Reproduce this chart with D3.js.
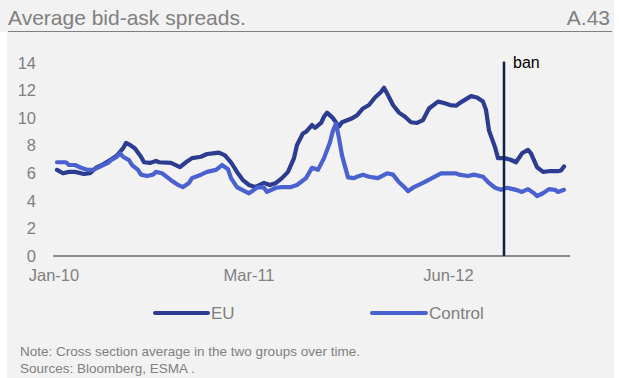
<!DOCTYPE html>
<html>
<head>
<meta charset="utf-8">
<script src="https://cdn.jsdelivr.net/npm/d3@7"></script>
<style>
  html, body { margin: 0; padding: 0; background: #ffffff; }
  svg { display: block; font-family: "Liberation Sans", Arial, sans-serif; }
</style>
</head>
<body>
<svg id="chart" width="619" height="378"></svg>
<script>
// ---- data (x = week index, Jan-10 label at 0) ----
const title = "Average bid-ask spreads.";
const chartId = "A.43";
const seriesNames = ["EU", "Control"];
const yTicks = [0, 2, 4, 6, 8, 10, 12, 14];
const xTickLabels = ["Jan-10", "Mar-11", "Jun-12"];
const xTickWeeks = [0, 65, 131.5];
const banWeek = 150;
const banLabel = "ban";
const notes = ["Note: Cross section average in the two groups over time.", "Sources: Bloomberg, ESMA ."];

const euWeeks = [1,3,5,7,10,12,14,16,19,21,23,24,25,27,29,30,32,34,35,39,42,44,46,49,51,53,55,57,59,61,63,65,67,70,72,74,76,78,80,81,83,84,86,87,89,90,91,93,95,96,99,101,103,105,107,109,110,111,113,115,117,119,121,123,125,128,130,132,134,136,139,141,143,144,145,147,148,150,152,154,156,158,159,161,163,165,168,169,170];
const euValues = [6.25,6.0,6.1,6.1,5.95,6.0,6.4,6.6,7.0,7.3,7.8,8.2,8.1,7.8,7.2,6.8,6.75,6.9,6.8,6.75,6.45,6.8,7.1,7.2,7.4,7.45,7.5,7.3,6.8,6.1,5.5,5.15,5.0,5.3,5.15,5.3,5.65,6.1,7.1,8.05,8.9,9.0,9.5,9.3,9.65,10.1,10.4,10.0,9.4,9.7,9.95,10.2,10.7,10.95,11.5,11.9,12.2,11.8,10.95,10.4,10.1,9.7,9.65,9.86,10.7,11.2,11.1,10.95,10.9,11.2,11.6,11.5,11.2,10.6,9.1,7.9,7.1,7.1,7.0,6.8,7.45,7.7,7.45,6.45,6.1,6.15,6.15,6.2,6.5];

const ctrlWeeks = [1,4,5,7,9,11,13,15,18,19,21,22,23,25,26,28,29,31,33,34,36,39,41,43,45,46,49,51,54,56,58,59,61,64,65,68,70,71,74,76,79,81,84,86,88,90,92,93,94,95,96,98,100,101,103,105,108,111,113,115,117,118,120,123,126,129,131,134,135,138,140,143,145,147,149,151,154,156,158,160,161,163,165,167,168,170];
const ctrlValues = [6.8,6.8,6.6,6.6,6.4,6.25,6.25,6.45,6.75,6.95,7.2,7.45,7.2,6.95,6.6,6.25,5.9,5.8,5.9,6.1,6.0,5.5,5.2,5.0,5.3,5.65,5.9,6.1,6.25,6.6,6.3,5.65,5.0,4.65,4.55,5.0,4.95,4.65,4.95,5.0,5.0,5.15,5.65,6.4,6.25,7.1,8.25,9.1,9.6,8.55,7.3,5.7,5.65,5.75,5.9,5.75,5.65,6.0,5.9,5.35,4.95,4.7,5.0,5.3,5.65,6.0,6.0,6.0,5.9,5.8,5.9,5.75,5.3,4.95,4.8,4.95,4.8,4.65,4.85,4.55,4.35,4.55,4.85,4.8,4.65,4.8];

// ---- style ----
const W = 619, H = 378;
const euColor = "#2c3c91";
const ctrlColor = "#4a62cf";
const gray = "#808080";

const svg = d3.select("#chart");

// panel backgrounds
svg.append("rect").attr("x", 0).attr("y", 0).attr("width", 614).attr("height", 32).attr("fill", "#f2f2f2");
svg.append("rect").attr("x", 7).attr("y", 0).attr("width", 607).attr("height", H).attr("fill", "#f2f2f2");

// title
svg.append("text").attr("x", 8).attr("y", 25).attr("font-size", 21).attr("fill", gray).text(title);
svg.append("text").attr("x", 610).attr("y", 25).attr("font-size", 21).attr("fill", gray)
  .attr("text-anchor", "end").text(chartId);
svg.append("line").attr("x1", 8).attr("x2", 612).attr("y1", 31.5).attr("y2", 31.5)
  .attr("stroke", gray).attr("stroke-width", 1);

// scales
const x = d3.scaleLinear().domain([-0.33, 172]).range([53, 570]);
const y = d3.scaleLinear().domain([0, 14]).range([256, 63]);

// y axis labels
svg.append("g").selectAll("text").data(yTicks).join("text")
  .attr("x", 36).attr("y", d => y(d)).attr("dy", "0.35em")
  .attr("text-anchor", "end").attr("font-size", 16.5).attr("fill", gray)
  .text(d => d);

// x axis baseline
svg.append("line").attr("x1", x(-0.33)).attr("x2", x(172)).attr("y1", y(0)).attr("y2", y(0))
  .attr("stroke", "#8c8c8c").attr("stroke-width", 2);

// x tick labels
svg.append("g").selectAll("text").data(xTickLabels).join("text")
  .attr("x", (d, i) => x(xTickWeeks[i])).attr("y", 281)
  .attr("text-anchor", "middle").attr("font-size", 16.5).attr("fill", gray)
  .text(d => d);

// lines
const line = d3.line().x(d => x(d[0])).y(d => y(d[1]));
const euData = euWeeks.map((w, i) => [w, euValues[i]]);
const ctrlData = ctrlWeeks.map((w, i) => [w, ctrlValues[i]]);

svg.append("path").datum(euData).attr("d", line)
  .attr("fill", "none").attr("stroke", euColor).attr("stroke-width", 4.2)
  .attr("stroke-linejoin", "round").attr("stroke-linecap", "round");
svg.append("path").datum(ctrlData).attr("d", line)
  .attr("fill", "none").attr("stroke", ctrlColor).attr("stroke-width", 4.2)
  .attr("stroke-linejoin", "round").attr("stroke-linecap", "round");

// ban line
svg.append("line").attr("x1", x(banWeek)).attr("x2", x(banWeek)).attr("y1", y(14.1)).attr("y2", y(0))
  .attr("stroke", "#0f2342").attr("stroke-width", 2.5);
svg.append("text").attr("x", x(banWeek) + 9).attr("y", 68).attr("font-size", 16).attr("fill", "#000")
  .text(banLabel);

// legend
const legendItems = [
  { name: seriesNames[0], color: euColor, x1: 155, x2: 208 },
  { name: seriesNames[1], color: ctrlColor, x1: 372, x2: 426 }
];
const lg = svg.append("g");
legendItems.forEach(it => {
  lg.append("line").attr("x1", it.x1).attr("x2", it.x2).attr("y1", 313).attr("y2", 313)
    .attr("stroke", it.color).attr("stroke-width", 4).attr("stroke-linecap", "round");
  lg.append("text").attr("x", it.x2 + 3).attr("y", 313).attr("dy", "0.35em")
    .attr("font-size", 17).attr("fill", gray).text(it.name);
});

// notes
svg.append("g").selectAll("text").data(notes).join("text")
  .attr("x", 20).attr("y", (d, i) => 356 + i * 17)
  .attr("font-size", 13.5).attr("fill", gray).text(d => d);
</script>
</body>
</html>
